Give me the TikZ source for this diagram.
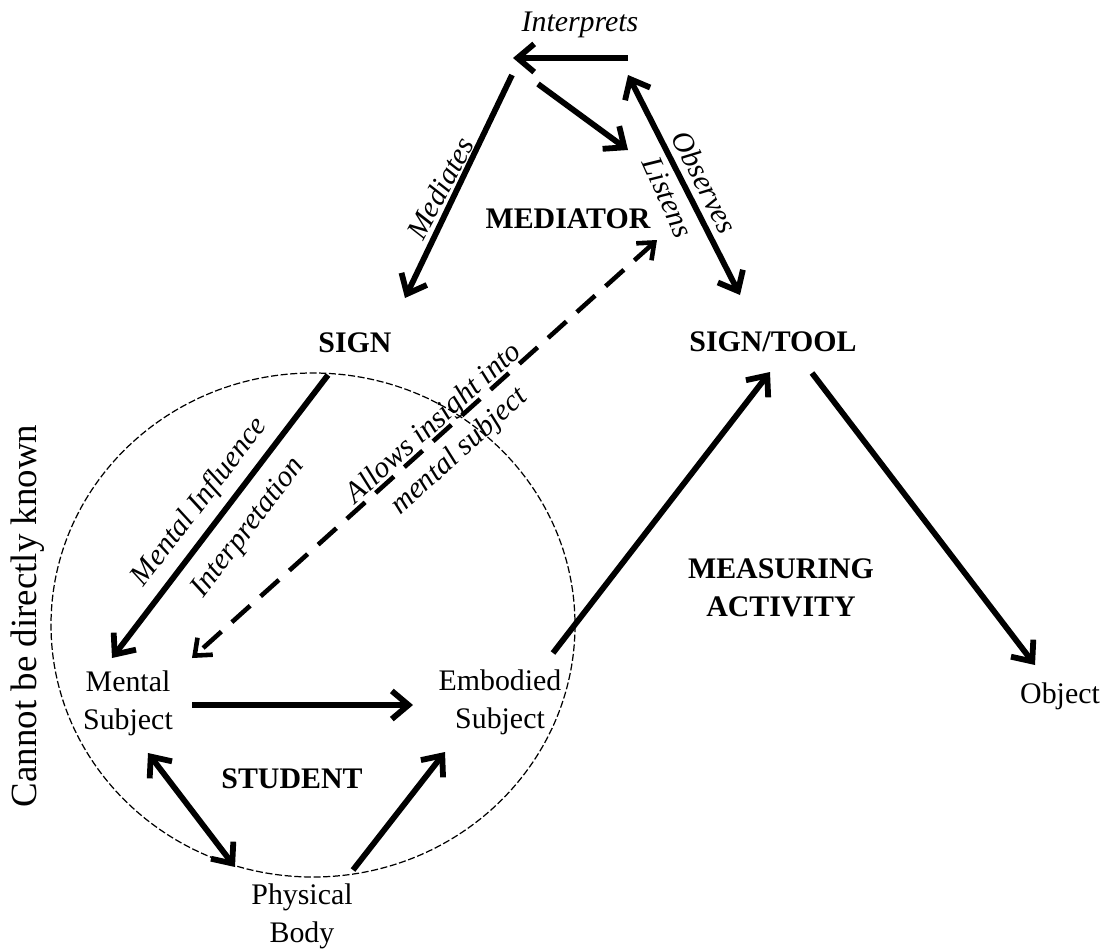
\documentclass[tikz,border=0pt]{standalone}
\usepackage{fontspec}
\setmainfont{Liberation Serif}
\usetikzlibrary{arrows.meta}
\tikzset{
    barb/.style={line width=3.3pt, -{Straight Barb[length=9.5pt,width=16pt]}},
    dbarb/.style={line width=3.3pt, {Straight Barb[length=9.5pt,width=16pt]}-{Straight Barb[length=9.5pt,width=16pt]}},
    dashbarb/.style={line width=2.6pt, dash pattern=on 14pt off 8pt, {Straight Barb[length=8pt,width=13pt]}-{Straight Barb[length=8pt,width=13pt]}},
    lbl/.style={font=\fontsize{17}{21.5}\selectfont, align=center, inner sep=1pt},
    ilbl/.style={lbl, font=\fontsize{17}{21.5}\selectfont\itshape},
    blbl/.style={lbl, font=\fontsize{17}{21.5}\selectfont\bfseries},
}

\begin{document}
\begin{tikzpicture}[x=0.02cm,y=-0.02cm]
\useasboundingbox (0,0) rectangle (1102,951);

% the student circle
\draw[line width=0.7pt, dash pattern=on 4pt off 1.5pt] (313,625) ellipse [x radius=262, y radius=252];

% texts
\node[ilbl] (interp) at (580,25) {Interprets};
\node[blbl] (mediator) at (568,219) {MEDIATOR};
\node[blbl] (sign) at (355,343) {SIGN};
\node[blbl] (signtool) at (773,342) {SIGN/TOOL};
\node[blbl] (measuring) at (781,588) {MEASURING\\ACTIVITY};
\node[lbl] (mental) at (128,703) {Mental\\Subject};
\node[lbl] (embodied) at (500,702) {Embodied\\Subject};
\node[blbl] (student) at (292,779) {STUDENT};
\node[lbl] (body) at (302,916) {Physical\\Body};
\node[lbl] (object) at (1060,696) {Object};
\node[lbl, font=\fontsize{21}{24}\selectfont, rotate=90] (unknown) at (28,616) {Cannot be directly known};

\node[ilbl, rotate=62] (mediates) at (440,188) {Mediates};
\node[ilbl, rotate=-66] (listens) at (668,197) {Listens};
\node[ilbl, rotate=-63] (observes) at (705,182) {Observes};
\node[ilbl, rotate=52.5] (influence) at (200,502) {Mental Influence};
\node[ilbl, rotate=52.5] (interpretation) at (249,528) {Interpretation};
\node[ilbl, rotate=42] (insight) at (447,438) {Allows insight into\\mental subject};

% arrow ends
\coordinate (iA) at (628,58);
\coordinate (iB) at (513,58);
\coordinate (mA) at (512,75);
\coordinate (mB) at (405,298);
\coordinate (lA) at (538,84);
\coordinate (lB) at (628,150);
\coordinate (oA) at (628,75);
\coordinate (oB) at (740,295);
\coordinate (dA) at (657,240);
\coordinate (dB) at (192,658);
\coordinate (sA) at (328,375);
\coordinate (sB) at (112,658);
\coordinate (meA) at (192,705);
\coordinate (meB) at (413,705);
\coordinate (mpA) at (148,753);
\coordinate (mpB) at (235,867);
\coordinate (peA) at (353,870);
\coordinate (peB) at (445,752);
\coordinate (etA) at (553,653);
\coordinate (etB) at (770,372);
\coordinate (toA) at (812,373);
\coordinate (toB) at (1035,665);

\draw[barb] (iA) -- (iB);
\draw[barb] (mA) -- (mB);
\draw[barb] (lA) -- (lB);
\draw[dbarb] (oA) -- (oB);
\draw[dashbarb] (dA) -- (dB);
\draw[barb] (sA) -- (sB);
\draw[barb] (meA) -- (meB);
\draw[dbarb] (mpA) -- (mpB);
\draw[barb] (peA) -- (peB);
\draw[barb] (etA) -- (etB);
\draw[barb] (toA) -- (toB);
\end{tikzpicture}
\end{document}
